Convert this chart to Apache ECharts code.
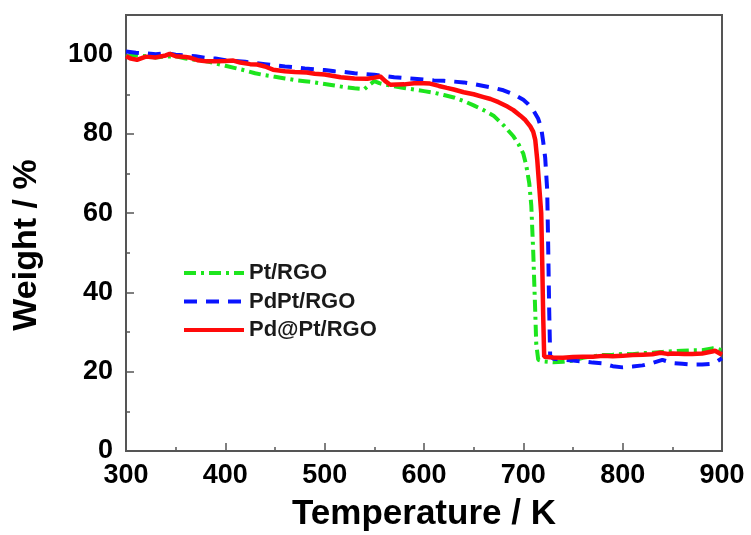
<!DOCTYPE html>
<html>
<head>
<meta charset="utf-8">
<script src="https://cdn.jsdelivr.net/npm/echarts@6/dist/echarts.min.js"></script>
<style>html,body{margin:0;padding:0;background:#fff}#c{width:751px;height:535px}</style>
</head>
<body>
<div id="c"></div>
<script>
// Pt/RGO
const ptT = [300,310,320,330,340,350,360,370,380,390,400,410,420,430,440,450,460,470,480,490,500,510,520,530,540,545,550,555,560,570,580,590,600,610,620,630,640,650,660,670,680,690,695,700,703,706,708,710,712,713,715,720,730,740,750,760,770,780,790,800,810,820,830,840,850,860,870,880,890,895,900];
const ptW = [99.5,99.8,99.6,99.3,99.5,99.6,99.0,98.7,98.4,97.8,97.2,96.6,96.0,95.3,94.8,94.4,94.0,93.6,93.3,93.0,92.6,92.2,91.8,91.5,91.3,92.4,93.3,92.8,92.5,92.0,91.6,91.2,90.8,90.4,89.8,89.2,88.3,87.2,86.0,84.6,82.2,79.4,77.5,75.0,72.0,67.5,62.0,50.0,35.0,27.0,23.0,22.6,22.4,22.5,22.8,23.5,23.9,24.2,24.3,24.5,24.4,24.7,24.8,25.0,25.2,25.3,25.4,25.4,25.9,25.8,25.4];
// PdPt/RGO
const pdptT = [300,310,320,330,340,350,360,370,380,390,400,410,420,430,440,450,460,470,480,490,500,510,520,530,540,550,560,570,580,590,600,610,620,630,640,650,660,670,680,690,700,705,710,715,718,720,722,724,725,726,727,730,740,750,760,770,780,790,800,810,820,830,840,850,860,870,880,890,895,900];
const pdptW = [100.8,100.5,100.3,100.1,100.4,100.0,99.8,99.6,99.2,99.0,98.6,98.4,98.2,97.9,97.6,97.3,97.0,96.8,96.5,96.3,96.1,95.8,95.6,95.3,95.1,94.9,94.6,94.3,94.1,93.9,93.7,93.5,93.4,93.2,93.0,92.6,92.1,91.6,91.0,90.0,88.6,87.5,86.0,83.8,81.5,78.0,74.0,66.0,52.0,36.0,24.0,23.3,23.0,22.8,22.6,22.3,22.1,21.4,21.1,21.3,21.6,22.2,23.0,22.2,22.0,21.8,21.8,22.0,22.6,23.4];
// Pd@Pt/RGO
const pdatptT = [300,305,311,320,330,340,344,350,360,365,372,381,390,400,408,415,425,432,440,448,460,470,482,490,500,516,530,543,550,556,561,566,580,590,600,606,615,623,630,640,650,660,667,675,684,690,697,702,707,710,712,714,716,718,719,720,721,730,740,750,760,770,780,790,800,810,820,830,838,845,850,862,870,880,890,893,900];
const pdatptW = [99.6,99.0,98.7,99.5,99.3,99.8,100.2,99.6,99.4,99.2,98.6,98.3,98.3,98.4,98.5,98.0,97.6,97.5,97.0,96.2,95.8,95.6,95.5,95.2,95.0,94.3,94.0,93.9,94.2,94.5,93.3,92.4,92.5,92.8,92.8,92.7,92.1,91.6,91.2,90.5,90.0,89.3,88.8,88.0,86.9,86.0,84.6,83.5,81.9,80.5,78.5,73.5,66.7,60.0,48.0,34.0,23.8,23.6,23.5,23.7,23.8,23.8,24.0,23.9,24.0,24.2,24.3,24.4,24.8,24.5,24.6,24.5,24.5,24.6,25.1,25.3,24.3];

const seriesNames = ['Pt/RGO','PdPt/RGO','Pd@Pt/RGO'];
const xTitle = 'Temperature / K';
const yTitle = 'Weight / %';

const FONT = "'Liberation Sans', Arial, sans-serif";
const pairs = (t, w) => t.map((x, i) => [x, w[i]]);

const chart = echarts.init(document.getElementById('c'), null, {renderer: 'canvas'});
chart.setOption({
  animation: false,
  backgroundColor: '#fff',
  grid: {left: 126, right: 29, top: 15, bottom: 84, show: true, borderColor: '#555', borderWidth: 2,
         backgroundColor: 'transparent', outerBoundsMode: 'none', containLabel: false},
  legend: {
    orient: 'vertical', left: 177, top: 257, itemWidth: 60, itemHeight: 20, itemGap: 6.5,
    itemStyle: {opacity: 0},
    lineStyle: {width: 4},
    textStyle: {fontFamily: FONT, fontWeight: 'bold', fontSize: 22, color: '#1a1a1a', padding: [0,0,0,0]},
    data: seriesNames
  },
  xAxis: {
    type: 'value', min: 300, max: 900, interval: 100,
    name: xTitle, nameLocation: 'middle', nameGap: 46,
    nameTextStyle: {fontFamily: FONT, fontWeight: 'bold', fontSize: 35, color: '#000'},
    axisLine: {show: true, lineStyle: {color: '#555', width: 2}},
    axisTick: {show: true, inside: true, length: 8, lineStyle: {color: '#555', width: 1.5}},
    minorTick: {show: true, splitNumber: 2, length: 4, lineStyle: {color: '#555', width: 1.5}},
    splitLine: {show: false},
    axisLabel: {fontFamily: FONT, fontWeight: 'bold', fontSize: 27, color: '#000', margin: 11}
  },
  yAxis: {
    type: 'value', min: 0, max: 110, interval: 20,
    name: yTitle, nameLocation: 'middle', nameGap: 82,
    nameTextStyle: {fontFamily: FONT, fontWeight: 'bold', fontSize: 34, color: '#000', padding: [0, 24, 0, 0]},
    axisLine: {show: true, lineStyle: {color: '#555', width: 2}},
    axisTick: {show: true, inside: true, length: 8, lineStyle: {color: '#555', width: 1.5}},
    minorTick: {show: true, splitNumber: 2, length: 4, lineStyle: {color: '#555', width: 1.5}},
    splitLine: {show: false},
    axisLabel: {fontFamily: FONT, fontWeight: 'bold', fontSize: 27, color: '#000', margin: 13, showMaxLabel: false}
  },
  series: [
    {name: seriesNames[0], type: 'line', symbol: 'none', z: 2, data: pairs(ptT, ptW),
     itemStyle: {color: '#1de51d'}, lineStyle: {color: '#1de51d', width: 4, type: [12,5,3,5]}},
    {name: seriesNames[1], type: 'line', symbol: 'none', z: 3, data: pairs(pdptT, pdptW),
     itemStyle: {color: '#0a14ff'}, lineStyle: {color: '#0a14ff', width: 4, type: [13,9]}},
    {name: seriesNames[2], type: 'line', symbol: 'none', z: 4, data: pairs(pdatptT, pdatptW),
     itemStyle: {color: '#ff0a0a'}, lineStyle: {color: '#ff0a0a', width: 4.5}}
  ]
});
</script>
</body>
</html>
